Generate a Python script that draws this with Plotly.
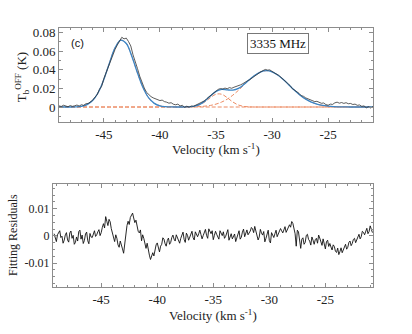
import plotly.graph_objects as go

# ---- data ----
# measured spectrum, every 0.2 km/s from -49 km/s
t_obs = [
    0.0012, 0.0006, 0.0019, 0.0010, 0.0003, 0.0015, 0.0007, 0.0013, 0.0021, 0.0011,
    0.0024, 0.0018, 0.0035, 0.0038, 0.0058, 0.0072, 0.0105, 0.0132, 0.0188, 0.0221,
    0.0305, 0.0372, 0.0440, 0.0502, 0.0561, 0.0618, 0.0665, 0.0712, 0.0748, 0.0731,
    0.0739, 0.0702, 0.0655, 0.0560, 0.0495, 0.0412, 0.0330, 0.0262, 0.0205, 0.0158,
    0.0131, 0.0112, 0.0098, 0.0087, 0.0079, 0.0069, 0.0074, 0.0058, 0.0052, 0.0041,
    0.0046, 0.0030, 0.0024, 0.0031, 0.0012, 0.0018, -0.0004, 0.0009, -0.0002, 0.0011,
    0.0008, 0.0020, 0.0024, 0.0041, 0.0049, 0.0068, 0.0092, 0.0111, 0.0138, 0.0152,
    0.0175, 0.0189, 0.0198, 0.0192, 0.0203, 0.0196, 0.0208, 0.0201, 0.0212, 0.0219,
    0.0224, 0.0238, 0.0251, 0.0262, 0.0281, 0.0293, 0.0312, 0.0331, 0.0349, 0.0362,
    0.0378, 0.0391, 0.0403, 0.0396, 0.0398, 0.0382, 0.0371, 0.0352, 0.0339, 0.0318,
    0.0296, 0.0278, 0.0252, 0.0231, 0.0198, 0.0183, 0.0159, 0.0147, 0.0122, 0.0115,
    0.0098, 0.0089, 0.0078, 0.0070, 0.0058, 0.0061, 0.0047, 0.0040, 0.0043, 0.0026,
    0.0019, 0.0031, 0.0028, 0.0045, 0.0052, 0.0041, 0.0048, 0.0039, 0.0046, 0.0035,
    0.0038, 0.0027, 0.0031, 0.0018, 0.0022, 0.0007, 0.0012, -0.0009, 0.0004, -0.0011,
    0.0006,
]
vel_obs = [round(-49.0 + 0.2 * k, 1) for k in range(len(t_obs))]

# fitted model and its gaussian components, sampled every 0.5 km/s
vel_fit = [-49.0 + 0.5 * k for k in range(57)]
g1 = [0, 0, 0, 0.0002, 0.0008, 0.0026, 0.0069, 0.0156, 0.0296, 0.0473,
      0.0635, 0.0717, 0.0681, 0.0543, 0.0365, 0.0206, 0.0097, 0.0039, 0.0013, 0.0004,
      0.0001, 0, 0, 0, 0, 0, 0, 0, 0, 0,
      0, 0, 0, 0, 0, 0, 0, 0, 0, 0,
      0, 0, 0, 0, 0, 0, 0, 0, 0, 0,
      0, 0, 0, 0, 0, 0, 0]
g2 = [0, 0, 0, 0, 0, 0, 0, 0, 0, 0,
      0, 0, 0, 0, 0, 0, 0, 0, 0, 0,
      0, 0, 0, 0.0001, 0.0006, 0.0021, 0.0054, 0.0100, 0.0137, 0.0137,
      0.0100, 0.0054, 0.0021, 0.0006, 0.0001, 0, 0, 0, 0, 0,
      0, 0, 0, 0, 0, 0, 0, 0, 0, 0,
      0, 0, 0, 0, 0, 0, 0]
g3 = [0, 0, 0, 0, 0, 0, 0, 0, 0, 0,
      0, 0, 0, 0, 0, 0, 0, 0, 0, 0,
      0, 0, 0, 0.0001, 0.0002, 0.0004, 0.0009, 0.0017, 0.0031, 0.0053,
      0.0084, 0.0127, 0.0179, 0.0237, 0.0294, 0.0344, 0.0378, 0.0390, 0.0378, 0.0344,
      0.0294, 0.0237, 0.0179, 0.0127, 0.0084, 0.0053, 0.0031, 0.0017, 0.0009, 0.0004,
      0.0002, 0.0001, 0, 0, 0, 0, 0]
fit_total = [0, 0, 0, 0.0002, 0.0008, 0.0026, 0.0069, 0.0156, 0.0296, 0.0473,
             0.0635, 0.0717, 0.0681, 0.0543, 0.0365, 0.0206, 0.0097, 0.0039, 0.0013, 0.0004,
             0.0001, 0, 0, 0.0002, 0.0008, 0.0025, 0.0063, 0.0117, 0.0168, 0.0190,
             0.0184, 0.0181, 0.0200, 0.0243, 0.0295, 0.0344, 0.0378, 0.0390, 0.0378, 0.0344,
             0.0294, 0.0237, 0.0179, 0.0127, 0.0084, 0.0053, 0.0031, 0.0017, 0.0009, 0.0004,
             0.0002, 0.0001, 0, 0, 0, 0, 0]

# fitting residuals, every 0.1 km/s from -49.2 km/s
res = [
    0.0008, -0.0012, -0.0021, 0.0004, 0.0013, 0.0019, -0.0006, -0.0001, -0.0027, -0.0016,
    0.0004, 0.0012, -0.0015, -0.0023, 0.0011, 0.0018, -0.0009, 0.0002, -0.0031, -0.0024,
    -0.0004, -0.0019, 0.0016, 0.0021, -0.0012, 0.0003, -0.0028, -0.0017, 0.0007, 0.0014,
    -0.0018, -0.0029, 0.0009, -0.0004, -0.0006, 0.0011, 0.0019, -0.0002, 0.0004, 0.0015,
    0.0023, 0.0001, 0.0012, 0.0031, 0.0045, 0.0029, 0.0071, 0.0054, 0.0038, 0.0061,
    0.0052, 0.0027, 0.0014, -0.0008, -0.0021, 0.0004, -0.0009, -0.0033, -0.0042, -0.0019,
    -0.0031, -0.0048, -0.0064, -0.0027, 0.0012, 0.0038, 0.0054, 0.0042, 0.0068, 0.0079,
    0.0084, 0.0066, 0.0049, 0.0058, 0.0036, 0.0017, 0.0011, 0.0022, -0.0018, 0.0004,
    -0.0009, -0.0031, -0.0046, -0.0027, -0.0058, -0.0071, -0.0087, -0.0068, -0.0062, -0.0074,
    -0.0049, -0.0033, -0.0026, -0.0044, -0.0059, -0.0038, -0.0031, -0.0007, -0.0012, -0.0029,
    -0.0038, -0.0017, -0.0008, -0.0031, -0.0024, -0.0006, 0.0003, -0.0012, -0.0019, 0.0004,
    -0.0005, -0.0016, -0.0027, -0.0009, 0.0006, 0.0014, -0.0013, -0.0024, 0.0010, 0.0002,
    -0.0016, -0.0007, 0.0004, 0.0017, -0.0007, -0.0015, 0.0015, 0.0003, -0.0003, 0.0008,
    0.0021, 0.0005, -0.0011, 0.0001, 0.0012, 0.0024, 0.0002, -0.0009, 0.0026, 0.0013,
    0.0008, 0.0019, -0.0014, 0.0002, 0.0017, 0.0006, -0.0003, -0.0012, 0.0019, 0.0007,
    0.0001, 0.0015, -0.0009, -0.0002, 0.0011, 0.0023, -0.0016, -0.0005, 0.0008, -0.0011,
    -0.0004, 0.0007, -0.0021, -0.0008, 0.0006, 0.0019, -0.0012, -0.0005, 0.0014, 0.0025,
    -0.0003, 0.0009, 0.0022, 0.0004, 0.0009, 0.0018, 0.0031, 0.0026, 0.0012, 0.0035,
    0.0018, 0.0003, -0.0015, -0.0004, 0.0024, 0.0011, 0.0003, 0.0016, -0.0022, -0.0009,
    0.0008, 0.0021, -0.0017, -0.0026, 0.0012, 0.0002, -0.0006, 0.0008, 0.0021, -0.0003,
    0.0009, 0.0014, 0.0027, 0.0019, 0.0011, 0.0022, 0.0034, 0.0013, 0.0024, 0.0036,
    0.0041, 0.0032, 0.0053, 0.0046, 0.0029, 0.0008, -0.0038, 0.0021, 0.0015, -0.0027,
    -0.0046, -0.0012, -0.0007, -0.0031, -0.0024, 0.0002, 0.0006, -0.0013, -0.0019, -0.0034,
    -0.0004, -0.0016, -0.0031, -0.0014, -0.0009, -0.0027, 0.0003, -0.0008, -0.0022, -0.0035,
    -0.0011, -0.0029, -0.0048, -0.0021, -0.0016, -0.0039, -0.0028, -0.0041, -0.0052, -0.0033,
    -0.0039, -0.0057, -0.0061, -0.0045, -0.0069, -0.0058, -0.0044, -0.0062, -0.0053, -0.0038,
    -0.0031, -0.0049, -0.0042, -0.0024, -0.0019, -0.0036, -0.0028, -0.0013, -0.0009, -0.0025,
    -0.0014, -0.0002, 0.0006, -0.0011, -0.0003, 0.0017, 0.0013, 0.0004, 0.0021, 0.0028,
    0.0008, 0.0016, 0.0037, 0.0019, 0.0012,
]
vel_res = [round(-49.2 + 0.1 * k, 1) for k in range(len(res))]

vel_ticks = [-45, -40, -35, -30, -25]
vel_labels = ["-45", "-40", "-35", "-30", "-25"]
t_ticks = [0, 0.02, 0.04, 0.06, 0.08]
t_labels = ["0", "0.02", "0.04", "0.06", "0.08"]
res_ticks = [-0.01, 0, 0.01]
res_labels = ["-0.01", "0", "0.01"]

W, H = 412, 334
SERIF = "Liberation Serif, Times New Roman, DejaVu Serif, serif"
AX_COLOR = "#8c8c8c"
BLUE = "#3a86c8"
ORANGE = "#ec8a62"


def px_x(p):
    return p / W


def px_y(p):
    return 1 - p / H


fig = go.Figure()

# components (dashed orange)
for comp in (g1, g2, g3):
    fig.add_trace(go.Scatter(
        x=vel_fit, y=comp, mode="lines",
        line=dict(color=ORANGE, width=1, dash="4px,2px", shape="spline"),
        xaxis="x", yaxis="y", showlegend=False, hoverinfo="skip"))

# total fit (blue)
fig.add_trace(go.Scatter(
    x=vel_fit, y=fit_total, mode="lines", line=dict(color=BLUE, width=1.3, shape="spline"),
    xaxis="x", yaxis="y", showlegend=False))

# observed spectrum
fig.add_trace(go.Scatter(
    x=vel_obs, y=t_obs, mode="lines", line=dict(color="#333333", width=0.8),
    xaxis="x", yaxis="y", showlegend=False))

# residuals
fig.add_trace(go.Scatter(
    x=vel_res, y=res, mode="lines", line=dict(color="#111111", width=0.9),
    xaxis="x2", yaxis="y2", showlegend=False))

axis_common = dict(
    showline=True, linecolor=AX_COLOR, linewidth=1, mirror="ticks",
    ticks="inside", tickcolor=AX_COLOR, ticklen=4, tickwidth=1,
    showgrid=False, zeroline=False,
    tickfont=dict(family=SERIF, size=13, color="#222"),
    tickmode="array",
)
minor_common = dict(ticks="inside", ticklen=2, tickcolor=AX_COLOR, showgrid=False)

fig.update_layout(
    width=W, height=H,
    margin=dict(l=0, r=0, t=0, b=0),
    paper_bgcolor="white", plot_bgcolor="white",
    xaxis=dict(axis_common, domain=[px_x(59), px_x(373)], range=[-49, -21],
               tickvals=vel_ticks, ticktext=vel_labels, anchor="y",
               minor=dict(minor_common, dtick=1, tick0=0)),
    yaxis=dict(axis_common, domain=[px_y(120), px_y(25)], range=[-0.016, 0.085],
               tickvals=t_ticks, ticktext=t_labels, anchor="x",
               minor=dict(minor_common, dtick=0.01, tick0=0)),
    xaxis2=dict(axis_common, domain=[px_x(53), px_x(373)], range=[-49.3, -20.75],
                tickvals=vel_ticks, ticktext=vel_labels, anchor="y2",
                minor=dict(minor_common, dtick=1, tick0=0)),
    yaxis2=dict(axis_common, domain=[px_y(287), px_y(183)], range=[-0.019, 0.019],
                tickvals=res_ticks, ticktext=res_labels, anchor="x2",
                tickfont=dict(family=SERIF, size=12, color="#222"),
                minor=dict(minor_common, dtick=0.0025, tick0=0)),
)

title_font = dict(family=SERIF, size=13, color="#222")
annotations = [
    dict(text="Velocity (km s<sup>-1</sup>)", x=px_x(216), y=px_y(147), showarrow=False,
         xref="paper", yref="paper", xanchor="center", yanchor="middle", font=title_font),
    dict(text="Velocity (km s<sup>-1</sup>)", x=px_x(213), y=px_y(315), showarrow=False,
         xref="paper", yref="paper", xanchor="center", yanchor="middle", font=title_font),
    dict(text="T<sub>b</sub><sup>OFF</sup> (K)", x=px_x(22), y=px_y(75), showarrow=False,
         xref="paper", yref="paper", xanchor="center", yanchor="middle", textangle=-90,
         font=title_font),
    dict(text="Fitting Residuals", x=px_x(13), y=px_y(234), showarrow=False,
         xref="paper", yref="paper", xanchor="center", yanchor="middle", textangle=-90,
         font=dict(family=SERIF, size=12, color="#222")),
    dict(text="(c)", x=px_x(77), y=px_y(40), showarrow=False,
         xref="paper", yref="paper", xanchor="center", yanchor="middle",
         font=dict(family="Liberation Sans, Arial, sans-serif", size=11, color="#111")),
    dict(text="3335 MHz", x=px_x(277.5), y=px_y(41), showarrow=False,
         xref="paper", yref="paper", xanchor="center", yanchor="middle",
         bordercolor="#777", borderwidth=1, borderpad=2, bgcolor="white",
         width=56, font=dict(family=SERIF, size=13, color="#111")),
]
fig.update_layout(annotations=annotations)

# the page's default body margin would push the figure off its 412x334 window
fig.write_html("out.html", config={"displayModeBar": False},
               post_script="document.body.style.margin='0';")
